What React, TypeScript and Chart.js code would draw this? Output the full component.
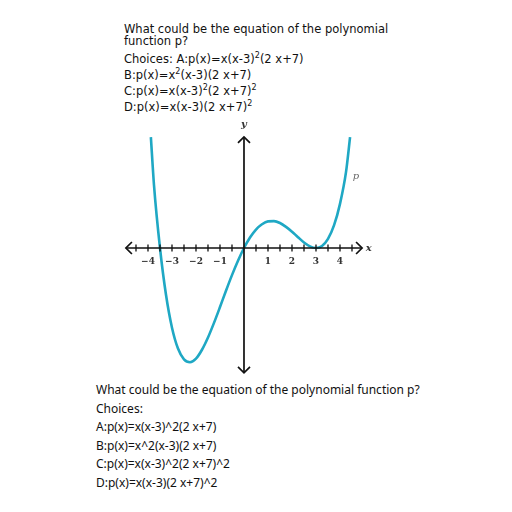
import React, { useEffect, useRef } from "react";
import { Chart, registerables } from "chart.js";

Chart.register(...registerables);

// Points (x, y in graph units)
const curveX = [-3.88, -3.75, -3.5, -3.25, -3, -2.75, -2.5, -2.25, -2, -1.75, -1.5, -1.25, -1, -0.75, -0.5, -0.25, 0, 0.25, 0.5, 0.75, 1, 1.25, 1.5, 1.75, 2, 2.25, 2.5, 2.75, 3, 3.25, 3.5, 3.75, 4, 4.25, 4.42];
const curveY = [4.62, 2.62, 0, -1.95, -3.32, -4.19, -4.64, -4.76, -4.61, -4.24, -3.73, -3.12, -2.46, -1.78, -1.13, -0.53, 0, 0.44, 0.77, 0.99, 1.11, 1.12, 1.04, 0.88, 0.68, 0.45, 0.23, 0.07, 0, 0.08, 0.38, 0.94, 1.84, 3.16, 4.62];
const xTickLabels = ["−4", "−3", "−2", "−1", "1", "2", "3", "4"];
const xTickValues = [-4, -3, -2, -1, 1, 2, 3, 4];
const minorTicks = [-4.5, -4, -3.5, -3, -2.5, -2, -1.5, -1, -0.5, 0.5, 1, 1.5, 2, 2.5, 3, 3.5, 4, 4.5];

const topLines = [
  "What could be the equation of the polynomial",
  "function p?",
];
const choicesTop = [
  ["Choices: A:p(x)=x(x-3)", "2", "(2 x+7)", ""],
  ["B:p(x)=x", "2", "(x-3)(2 x+7)", ""],
  ["C:p(x)=x(x-3)", "2", "(2 x+7)", "2"],
  ["D:p(x)=x(x-3)(2 x+7)", "2", "", ""],
];
const bottomLines = [
  "What could be the equation of the polynomial function p?",
  "Choices:",
  "A:p(x)=x(x-3)^2(2 x+7)",
  "B:p(x)=x^2(x-3)(2 x+7)",
  "C:p(x)=x(x-3)^2(2 x+7)^2",
  "D:p(x)=x(x-3)(2 x+7)^2",
];

const axisPlugin = {
  id: "axesArrows",
  afterDatasetsDraw(chart: any) {
    const ctx = chart.ctx;
    const xs = chart.scales.x;
    const ys = chart.scales.y;
    const X = (v: number) => xs.getPixelForValue(v);
    const Y = (v: number) => ys.getPixelForValue(v);
    ctx.save();
    ctx.strokeStyle = "#111";
    ctx.fillStyle = "#111";
    ctx.lineWidth = 1.7;
    const y0 = Y(0);
    const x0 = X(0);
    const xl = X(-4.92), xr = X(4.92);
    const yt = Y(4.63), yb = Y(-5.2);
    ctx.beginPath();
    ctx.moveTo(xl, y0); ctx.lineTo(xr, y0);
    ctx.moveTo(x0, yt); ctx.lineTo(x0, yb);
    ctx.stroke();
    // arrowheads
    const a = 6;
    ctx.beginPath();
    ctx.moveTo(xl + a, y0 - a); ctx.lineTo(xl, y0); ctx.lineTo(xl + a, y0 + a);
    ctx.moveTo(xr - a, y0 - a); ctx.lineTo(xr, y0); ctx.lineTo(xr - a, y0 + a);
    ctx.moveTo(x0 - a, yt + a); ctx.lineTo(x0, yt); ctx.lineTo(x0 + a, yt + a);
    ctx.moveTo(x0 - a, yb - a); ctx.lineTo(x0, yb); ctx.lineTo(x0 + a, yb - a);
    ctx.stroke();
    // ticks
    ctx.lineWidth = 1.3;
    ctx.beginPath();
    minorTicks.forEach((v) => {
      const px = X(v);
      ctx.moveTo(px, y0 - 3.5); ctx.lineTo(px, y0 + 3.5);
    });
    ctx.stroke();
    ctx.font = "bold 9px 'DejaVu Serif'";
    ctx.textAlign = "center";
    ctx.textBaseline = "top";
    ctx.fillStyle = "#333";
    xTickValues.forEach((v, i) => {
      ctx.fillText(xTickLabels[i], X(v), y0 + 9);
    });
    ctx.font = "italic bold 10px 'DejaVu Serif'";
    ctx.textBaseline = "middle";
    ctx.fillText("x", X(5.2), y0);
    ctx.fillText("y", x0, Y(5.15));
    ctx.fillStyle = "#666";
    ctx.font = "italic 10px 'DejaVu Serif'";
    ctx.fillText("p", X(4.67), Y(3.0));
    ctx.restore();
  },
};

function ChartBox() {
  const ref = useRef<HTMLCanvasElement>(null);
  useEffect(() => {
    if (!ref.current) return;
    const data = curveX.map((x, i) => ({ x, y: curveY[i] }));
    const chart = new Chart(ref.current, {
      type: "scatter",
      data: {
        datasets: [
          {
            data,
            showLine: true,
            borderColor: "#1fa8c4",
            borderWidth: 2.6,
            pointRadius: 0,
            tension: 0.4,
            cubicInterpolationMode: "monotone",
            fill: false,
          } as any,
        ],
      },
      options: {
        animation: false,
        responsive: false,
        maintainAspectRatio: false,
        layout: { padding: 0 },
        plugins: { legend: { display: false }, tooltip: { enabled: false } },
        scales: {
          x: { type: "linear", display: false, min: -5.583, max: 5.667 },
          y: { type: "linear", display: false, min: -5.5, max: 5.542 },
        },
      },
      plugins: [axisPlugin],
    });
    return () => chart.destroy();
  }, []);
  return (
    <canvas
      ref={ref}
      width={270}
      height={265}
      style={{ position: "absolute", left: 110, top: 115, width: 270, height: 265 }}
    />
  );
}

export default function App() {
  const topFont = "'DejaVu Sans', sans-serif";
  return (
    <div style={{ position: "fixed", left: 0, top: 0, width: 512, height: 512, background: "#fff", color: "#111" }}>
      <div style={{ position: "absolute", left: 124, top: 23, fontFamily: topFont, fontSize: 11.5, lineHeight: "12px", whiteSpace: "nowrap" }}>
        {topLines.map((l, i) => (
          <div key={i}>{l}</div>
        ))}
      </div>
      <div style={{ position: "absolute", left: 124, top: 51, fontFamily: topFont, fontSize: 11.5, lineHeight: "16px", whiteSpace: "nowrap" }}>
        {choicesTop.map((c, i) => (
          <div key={i}>
            {c[0]}
            <sup style={{ fontSize: 8, lineHeight: 0 }}>{c[1]}</sup>
            {c[2]}
            {c[3] ? <sup style={{ fontSize: 8, lineHeight: 0 }}>{c[3]}</sup> : null}
          </div>
        ))}
      </div>
      <ChartBox />
      <div style={{ position: "absolute", left: 96, top: 381, fontFamily: "'Noto Sans', sans-serif", fontSize: 12, lineHeight: "18.5px", whiteSpace: "nowrap" }}>
        {bottomLines.map((l, i) => (
          <div key={i}>{l}</div>
        ))}
      </div>
    </div>
  );
}
